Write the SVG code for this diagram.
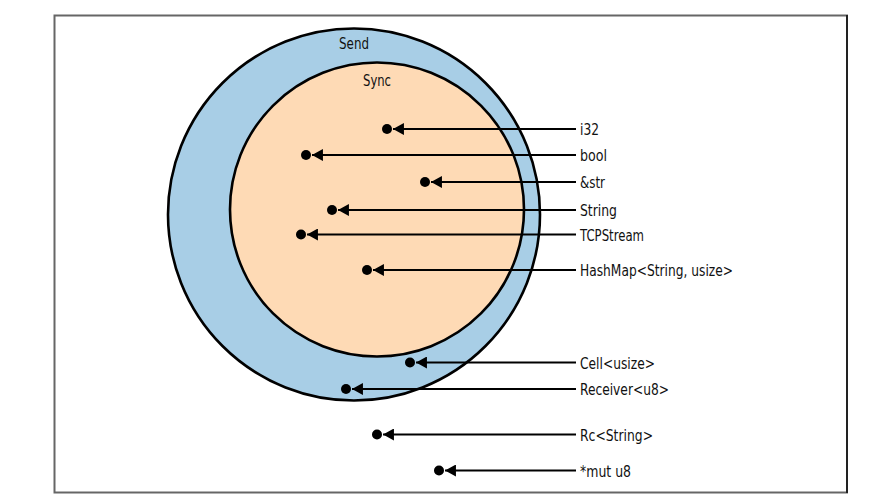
<svg xmlns="http://www.w3.org/2000/svg" width="894" height="501" viewBox="0 0 894 501">
  <style>
    .lbl { font-family: "DejaVu Sans Condensed", "DejaVu Sans", sans-serif; font-size: 16.5px; fill: #111; }
    .set { stroke: #000; stroke-width: 2.6; }
    .conn { stroke: #000; stroke-width: 2; fill: none; marker-end: url(#ah); }
    .dot { fill: #000; }
  </style>
  <defs>
    <marker id="ah" markerUnits="userSpaceOnUse" markerWidth="11" markerHeight="12" viewBox="0 0 10 11" refX="10" refY="5.5" orient="auto">
      <path d="M0,0 L10,5.5 L0,11 Z" fill="#000"/>
    </marker>
  </defs>
  <rect x="0" y="0" width="894" height="501" fill="#fff"/>
  <g id="frame">
    <rect x="54.5" y="15.5" width="792.5" height="477" fill="#fff" stroke="#666" stroke-width="2"/>
    <line x1="847" y1="15" x2="847" y2="493" stroke="#222" stroke-width="2"/>
  </g>
  <g id="send">
    <circle class="set" cx="354" cy="214.5" r="186" fill="#a8cee6"/>
    <text class="lbl" x="339" y="49" textLength="30" lengthAdjust="spacingAndGlyphs">Send</text>
  </g>
  <g id="sync">
    <circle class="set" cx="377" cy="209.5" r="147" fill="#fedab5"/>
    <text class="lbl" x="363" y="86" textLength="28" lengthAdjust="spacingAndGlyphs">Sync</text>
  </g>
  <g id="connectors">
    <line class="conn" x1="576" y1="129" x2="393" y2="129"/>
    <line class="conn" x1="576" y1="155" x2="312" y2="155"/>
    <line class="conn" x1="576" y1="182" x2="431" y2="182"/>
    <line class="conn" x1="576" y1="210" x2="338" y2="210"/>
    <line class="conn" x1="576" y1="234.5" x2="307" y2="234.5"/>
    <line class="conn" x1="576" y1="270" x2="373" y2="270"/>
    <line class="conn" x1="576" y1="362.5" x2="416" y2="362.5"/>
    <line class="conn" x1="576" y1="389" x2="352" y2="389"/>
    <line class="conn" x1="576" y1="434.5" x2="383" y2="434.5"/>
    <line class="conn" x1="576" y1="470.5" x2="445" y2="470.5"/>
  </g>
  <g id="i32"><circle class="dot" cx="387" cy="129" r="5"/><text class="lbl" x="580" y="135" textLength="19" lengthAdjust="spacingAndGlyphs">i32</text></g>
  <g id="bool"><circle class="dot" cx="306" cy="155" r="5"/><text class="lbl" x="580" y="161" textLength="27" lengthAdjust="spacingAndGlyphs">bool</text></g>
  <g id="str"><circle class="dot" cx="425" cy="182" r="5"/><text class="lbl" x="580" y="188" textLength="25" lengthAdjust="spacingAndGlyphs">&amp;str</text></g>
  <g id="string"><circle class="dot" cx="332" cy="210" r="5"/><text class="lbl" x="580" y="216" textLength="37" lengthAdjust="spacingAndGlyphs">String</text></g>
  <g id="tcpstream"><circle class="dot" cx="301" cy="234.5" r="5"/><text class="lbl" x="580" y="240.5" textLength="64" lengthAdjust="spacingAndGlyphs">TCPStream</text></g>
  <g id="hashmap"><circle class="dot" cx="367" cy="270" r="5"/><text class="lbl" x="580" y="276" textLength="153" lengthAdjust="spacingAndGlyphs">HashMap&lt;String, usize&gt;</text></g>
  <g id="cell"><circle class="dot" cx="410" cy="362.5" r="5"/><text class="lbl" x="580" y="368.5" textLength="75" lengthAdjust="spacingAndGlyphs">Cell&lt;usize&gt;</text></g>
  <g id="receiver"><circle class="dot" cx="346" cy="389" r="5"/><text class="lbl" x="580" y="395" textLength="89" lengthAdjust="spacingAndGlyphs">Receiver&lt;u8&gt;</text></g>
  <g id="rc"><circle class="dot" cx="377" cy="434.5" r="5"/><text class="lbl" x="580" y="440.5" textLength="73" lengthAdjust="spacingAndGlyphs">Rc&lt;String&gt;</text></g>
  <g id="mutu8"><circle class="dot" cx="439" cy="470.5" r="5"/><text class="lbl" x="580" y="476.5" textLength="51" lengthAdjust="spacingAndGlyphs">*mut u8</text></g>
</svg>
